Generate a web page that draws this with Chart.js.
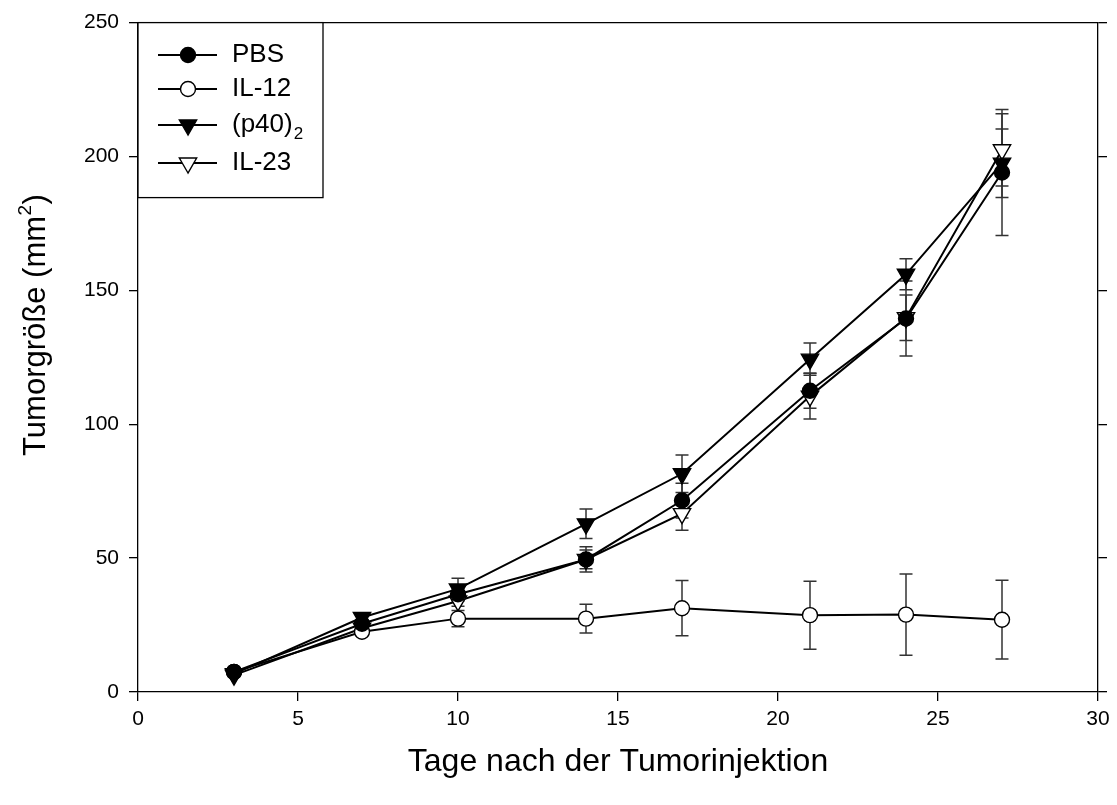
<!DOCTYPE html>
<html>
<head>
<meta charset="utf-8">
<script src="https://cdn.jsdelivr.net/npm/chart.js@4/dist/chart.umd.min.js"></script>
<style>
html,body{margin:0;padding:0;background:#fff;}
#wrap{width:1117px;height:805px;position:relative;}
</style>
</head>
<body>
<div id="wrap"><canvas id="c" width="1117" height="805"></canvas></div>
<script>
const days = [3, 7, 10, 14, 17, 21, 24, 27];
const pbs = [7.5, 25.5, 36.5, 49.5, 71.5, 112.5, 139.5, 194];
const pbsErr = [0.8, 1.5, 2.5, 3.5, 6.5, 6.5, 14, 23.5];
const il12 = [7.5, 22.5, 27.4, 27.4, 31.3, 28.7, 28.9, 27];
const il12Err = [0.8, 1.5, 3, 5.4, 10.3, 12.7, 15.2, 14.7];
const p40 = [6.8, 27.8, 38.5, 62.8, 81.5, 124.3, 156, 197.5];
const p40Err = [0.5, 1.5, 4, 5.5, 7, 6, 5.8, 12.8];
const il23 = [6.3, 23.8, 34, 49.5, 66.6, 110.5, 139.8, 202.5];
const il23Err = [0.5, 1.5, 2, 4.7, 6.2, 8.5, 8.5, 13.5];
const seriesNames = ['PBS', 'IL-12', '(p40)', 'IL-23'];
const xTitle = 'Tage nach der Tumorinjektion';
const yTitleMain = 'Tumorgröße (mm';
const yTitleSup = '2';
const yTitleEnd = ')';

const FONT = '"Liberation Sans", Arial, sans-serif';

function pts(vals, errs) {
  return days.map((d, i) => ({x: d, y: vals[i], e: errs[i]}));
}

const styles = [
  {style: 'circle', r: 7.5, fill: '#000', rot: 0},
  {style: 'circle', r: 7.5, fill: '#fff', rot: 0},
  {style: 'triangle', r: 10, fill: '#000', rot: 180},
  {style: 'triangle', r: 10, fill: '#fff', rot: 180}
];
const vals = [[pbs, pbsErr], [il12, il12Err], [p40, p40Err], [il23, il23Err]];

const datasets = vals.map((v, k) => ({
  label: seriesNames[k],
  data: pts(v[0], v[1]),
  borderColor: '#000',
  borderWidth: 2,
  pointStyle: styles[k].style,
  pointRadius: styles[k].r,
  pointHoverRadius: styles[k].r,
  pointRotation: styles[k].rot,
  pointBackgroundColor: styles[k].fill,
  pointBorderColor: '#000',
  pointBorderWidth: 1.4,
  showLine: true,
  tension: 0,
  fill: false
}));

const errorBars = {
  id: 'errorBars',
  beforeDatasetsDraw(chart) {
    const ctx = chart.ctx;
    const xs = chart.scales.x, ys = chart.scales.y;
    ctx.save();
    ctx.strokeStyle = '#333';
    ctx.lineWidth = 1.5;
    chart.data.datasets.forEach(ds => {
      ds.data.forEach(p => {
        const px = xs.getPixelForValue(p.x);
        const top = ys.getPixelForValue(p.y + p.e);
        const bot = ys.getPixelForValue(p.y - p.e);
        const w = 6.5;
        ctx.beginPath();
        ctx.moveTo(px, top); ctx.lineTo(px, bot);
        ctx.moveTo(px - w, top); ctx.lineTo(px + w, top);
        ctx.moveTo(px - w, bot); ctx.lineTo(px + w, bot);
        ctx.stroke();
      });
    });
    ctx.restore();
  }
};

function drawMarker(ctx, k, x, y) {
  const s = styles[k];
  ctx.beginPath();
  if (s.style === 'circle') {
    ctx.arc(x, y, s.r, 0, Math.PI * 2);
  } else {
    const r = s.r;
    ctx.moveTo(x, y + r);
    ctx.lineTo(x - r * Math.sin(Math.PI / 3), y - r / 2);
    ctx.lineTo(x + r * Math.sin(Math.PI / 3), y - r / 2);
    ctx.closePath();
  }
  ctx.fillStyle = s.fill;
  ctx.fill();
  ctx.lineWidth = 1.4;
  ctx.strokeStyle = '#000';
  ctx.stroke();
}

const frameLegend = {
  id: 'frameLegend',
  afterDraw(chart) {
    const ctx = chart.ctx;
    const a = chart.chartArea;
    ctx.save();
    ctx.strokeStyle = '#000';
    ctx.lineWidth = 1.3;
    ctx.beginPath();
    ctx.moveTo(a.left, a.top); ctx.lineTo(a.right, a.top);
    ctx.stroke();
    const bx = a.left, by = a.top, bw = 185, bh = 175;
    ctx.fillStyle = '#fff';
    ctx.fillRect(bx, by, bw, bh);
    ctx.strokeRect(bx, by, bw, bh);
    const rows = [55, 89, 125, 163];
    rows.forEach((ry, k) => {
      ctx.strokeStyle = '#000';
      ctx.lineWidth = 2;
      ctx.beginPath();
      ctx.moveTo(158, ry); ctx.lineTo(217, ry);
      ctx.stroke();
      drawMarker(ctx, k, 188, ry);
      ctx.fillStyle = '#000';
      ctx.font = '26px ' + FONT;
      ctx.textBaseline = 'middle';
      ctx.textAlign = 'left';
      ctx.fillText(seriesNames[k], 232, ry);
      if (k === 2) {
        const w = ctx.measureText(seriesNames[k]).width;
        ctx.font = '17px ' + FONT;
        ctx.fillText('2', 232 + w + 1, ry + 9);
      }
    });
    // y-axis title with superscript
    ctx.translate(36, 325);
    ctx.rotate(-Math.PI / 2);
    ctx.fillStyle = '#000';
    ctx.textBaseline = 'middle';
    ctx.textAlign = 'left';
    ctx.font = '31px ' + FONT;
    const w1 = ctx.measureText(yTitleMain).width;
    ctx.font = '19px ' + FONT;
    const w2 = ctx.measureText(yTitleSup).width;
    ctx.font = '31px ' + FONT;
    const w3 = ctx.measureText(yTitleEnd).width;
    const total = w1 + w2 + w3 + 1;
    let x0 = -total / 2;
    ctx.fillText(yTitleMain, x0, 0);
    ctx.font = '19px ' + FONT;
    ctx.fillText(yTitleSup, x0 + w1 + 0.5, -10);
    ctx.font = '31px ' + FONT;
    ctx.fillText(yTitleEnd, x0 + w1 + w2 + 1, 0);
    ctx.restore();
  }
};

new Chart(document.getElementById('c'), {
  type: 'scatter',
  data: {datasets},
  options: {
    responsive: false,
    animation: false,
    events: [],
    layout: {padding: {top: 21, right: 0, left: 0, bottom: 0}},
    plugins: {legend: {display: false}, tooltip: {enabled: false}},
    scales: {
      x: {
        type: 'linear', min: 0, max: 30,
        ticks: {stepSize: 5, color: '#000', font: {family: FONT, size: 21}, padding: 6},
        grid: {drawOnChartArea: false, drawTicks: true, tickLength: 9, color: '#000', lineWidth: 1.3},
        border: {display: true, color: '#000', width: 1.3},
        title: {display: true, text: xTitle, color: '#000', font: {family: FONT, size: 32}, padding: {top: 0, bottom: 24}},
        afterFit(s) { s.height = 113; }
      },
      y: {
        type: 'linear', min: 0, max: 250,
        ticks: {stepSize: 50, color: '#000', font: {family: FONT, size: 21}, padding: 10},
        grid: {drawOnChartArea: false, drawTicks: true, tickLength: 9, color: '#000', lineWidth: 1.3},
        border: {display: true, color: '#000', width: 1.3},
        title: {display: false},
        afterFit(s) { s.width = 138; }
      },
      y2: {
        type: 'linear', position: 'right', min: 0, max: 250,
        ticks: {stepSize: 50, display: false},
        grid: {drawOnChartArea: false, drawTicks: true, tickLength: 9, color: '#000', lineWidth: 1.3},
        border: {display: true, color: '#000', width: 1.3},
        afterFit(s) { s.width = 19; }
      }
    }
  },
  plugins: [errorBars, frameLegend]
});
</script>
</body>
</html>
